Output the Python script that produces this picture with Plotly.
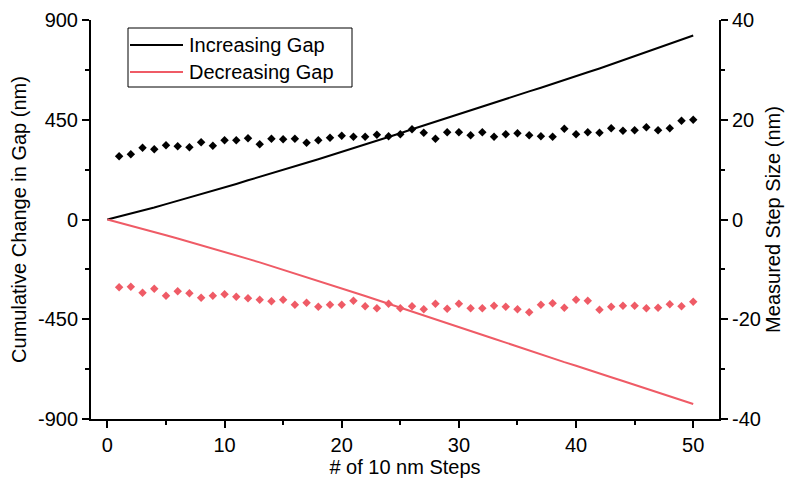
import plotly.graph_objects as go

# Step index (0 = starting gap)
steps = list(range(0, 51))
step_idx = list(range(1, 51))

# Cumulative change in gap (nm), left axis
inc_cumulative = [0.0, 12.7, 25.8, 40.2, 54.3, 69.2, 83.9, 98.4, 113.9, 128.7, 144.6,
                  160.5, 176.8, 191.9, 208.1, 224.2, 240.4, 255.8, 271.7, 288.1, 304.9,
                  321.5, 338.1, 355.1, 371.8, 388.9, 407.0, 424.4, 440.6, 458.1, 475.6,
                  492.5, 510.0, 526.6, 543.7, 561.0, 577.9, 594.6, 611.2, 629.4, 646.5,
                  664.0, 681.4, 699.7, 717.5, 735.4, 753.9, 771.8, 790.1, 809.9, 829.9]
dec_cumulative = [0.0, -13.6, -27.1, -41.8, -55.7, -71.0, -85.4, -100.2, -115.9, -131.2, -146.2,
                  -161.7, -177.5, -193.6, -210.0, -226.1, -243.2, -259.9, -277.4, -294.5, -311.6,
                  -327.9, -345.3, -363.1, -380.0, -397.8, -415.2, -433.2, -450.1, -468.0, -484.9,
                  -502.7, -520.5, -537.8, -555.3, -573.3, -591.9, -609.0, -625.8, -643.5, -659.6,
                  -675.9, -694.0, -711.5, -728.8, -746.1, -763.9, -781.6, -798.6, -816.0, -832.5]

# Measured size of each step (nm), right axis
inc_step = [12.7, 13.1, 14.4, 14.1, 14.9, 14.7, 14.5, 15.5, 14.8, 15.9,
            15.9, 16.3, 15.1, 16.2, 16.1, 16.2, 15.4, 15.9, 16.4, 16.8,
            16.6, 16.6, 17.0, 16.7, 17.1, 18.1, 17.4, 16.2, 17.5, 17.5,
            16.9, 17.5, 16.6, 17.1, 17.3, 16.9, 16.7, 16.6, 18.2, 17.1,
            17.5, 17.4, 18.3, 17.8, 17.9, 18.5, 17.9, 18.3, 19.8, 20.0]
dec_step = [-13.6, -13.5, -14.7, -13.9, -15.3, -14.4, -14.8, -15.7, -15.3, -15.0,
            -15.5, -15.8, -16.1, -16.4, -16.1, -17.1, -16.7, -17.5, -17.1, -17.1,
            -16.3, -17.4, -17.8, -16.9, -17.8, -17.4, -18.0, -16.9, -17.9, -16.9,
            -17.8, -17.8, -17.3, -17.5, -18.0, -18.6, -17.1, -16.8, -17.7, -16.1,
            -16.3, -18.1, -17.5, -17.3, -17.3, -17.8, -17.7, -17.0, -17.4, -16.5]

series_names = ["Increasing Gap", "Decreasing Gap"]

# Axis ticks (labels use a plain hyphen for negatives)
x_ticks = [0, 10, 20, 30, 40, 50]
y_ticks = [-900, -450, 0, 450, 900]
y_minor = [-675, -225, 225, 675]
y2_ticks = [-40, -20, 0, 20, 40]
y2_minor = [-30, -10, 10, 30]

BLACK = "#000000"
RED = "#EF5B66"
FONT = "Liberation Sans, Arial, sans-serif"
TICK_SIZE = 20
TITLE_SIZE = 20

fig = go.Figure()
fig.add_trace(go.Scatter(x=steps, y=inc_cumulative, mode="lines", name=series_names[0],
                         line=dict(color=BLACK, width=2)))
fig.add_trace(go.Scatter(x=steps, y=dec_cumulative, mode="lines", name=series_names[1],
                         line=dict(color=RED, width=2)))
fig.add_trace(go.Scatter(x=step_idx, y=inc_step, mode="markers", yaxis="y2",
                         marker=dict(symbol="diamond", size=6.5, color=BLACK, line=dict(width=0))))
fig.add_trace(go.Scatter(x=step_idx, y=dec_step, mode="markers", yaxis="y2",
                         marker=dict(symbol="diamond", size=6.5, color=RED, line=dict(width=0))))

axis_common = dict(showline=True, linecolor=BLACK, linewidth=2, showgrid=False, zeroline=False,
                   ticks="outside", ticklen=7, tickwidth=2, tickcolor=BLACK, automargin=False,
                   tickfont=dict(family=FONT, size=TICK_SIZE, color=BLACK))
minor_common = dict(ticks="outside", ticklen=4, tickwidth=2, tickcolor=BLACK)

# Plot-area geometry in pixels, used to place the boxed legend
W, H = 786, 481
L, R, T, B = 91, 67, 20, 62
PW, PH = W - L - R, H - T - B


def px_x(px):
    return (px - L) / PW


def px_y(py):
    return (H - B - py) / PH


shapes = [dict(type="rect", xref="paper", yref="paper",
               x0=px_x(128), x1=px_x(352), y0=px_y(87), y1=px_y(28),
               line=dict(color=BLACK, width=1), fillcolor="white", layer="above")]
annotations = []
for i, (name, color) in enumerate(zip(series_names, [BLACK, RED])):
    yy = px_y(45 + 27 * i)
    shapes.append(dict(type="line", xref="paper", yref="paper",
                       x0=px_x(130), x1=px_x(183), y0=yy, y1=yy,
                       line=dict(color=color, width=2), layer="above"))
    annotations.append(dict(xref="paper", yref="paper", x=px_x(187), y=yy,
                            xanchor="left", yanchor="middle", showarrow=False,
                            text=name, font=dict(family=FONT, size=TITLE_SIZE, color=BLACK)))

fig.update_layout(
    width=W, height=H,
    margin=dict(l=L, r=R, t=T, b=B),
    paper_bgcolor="white", plot_bgcolor="white",
    font=dict(family=FONT, size=TICK_SIZE, color=BLACK),
    showlegend=False,
    xaxis=dict(range=[-1.4, 52.2], tickmode="array", tickvals=x_ticks,
               ticktext=[str(v) for v in x_ticks],
               minor=dict(tickmode="array", tickvals=[5, 15, 25, 35, 45], **minor_common),
               title=dict(text="# of 10 nm Steps", font=dict(family=FONT, size=TITLE_SIZE), standoff=4),
               **axis_common),
    yaxis=dict(range=[-900, 900], tickmode="array", tickvals=y_ticks,
               ticktext=[str(v) for v in y_ticks],
               minor=dict(tickmode="array", tickvals=y_minor, **minor_common),
               title=dict(text="Cumulative Change in Gap (nm)", font=dict(family=FONT, size=TITLE_SIZE),
                          standoff=6),
               **axis_common),
    yaxis2=dict(range=[-40, 40], overlaying="y", side="right", tickmode="array", tickvals=y2_ticks,
                ticktext=[str(v) for v in y2_ticks],
                minor=dict(tickmode="array", tickvals=y2_minor, **minor_common),
                title=dict(text="Measured Step Size (nm)", font=dict(family=FONT, size=TITLE_SIZE),
                           standoff=6),
                **axis_common),
    shapes=shapes,
    annotations=annotations,
)

fig.write_html("out.html")
